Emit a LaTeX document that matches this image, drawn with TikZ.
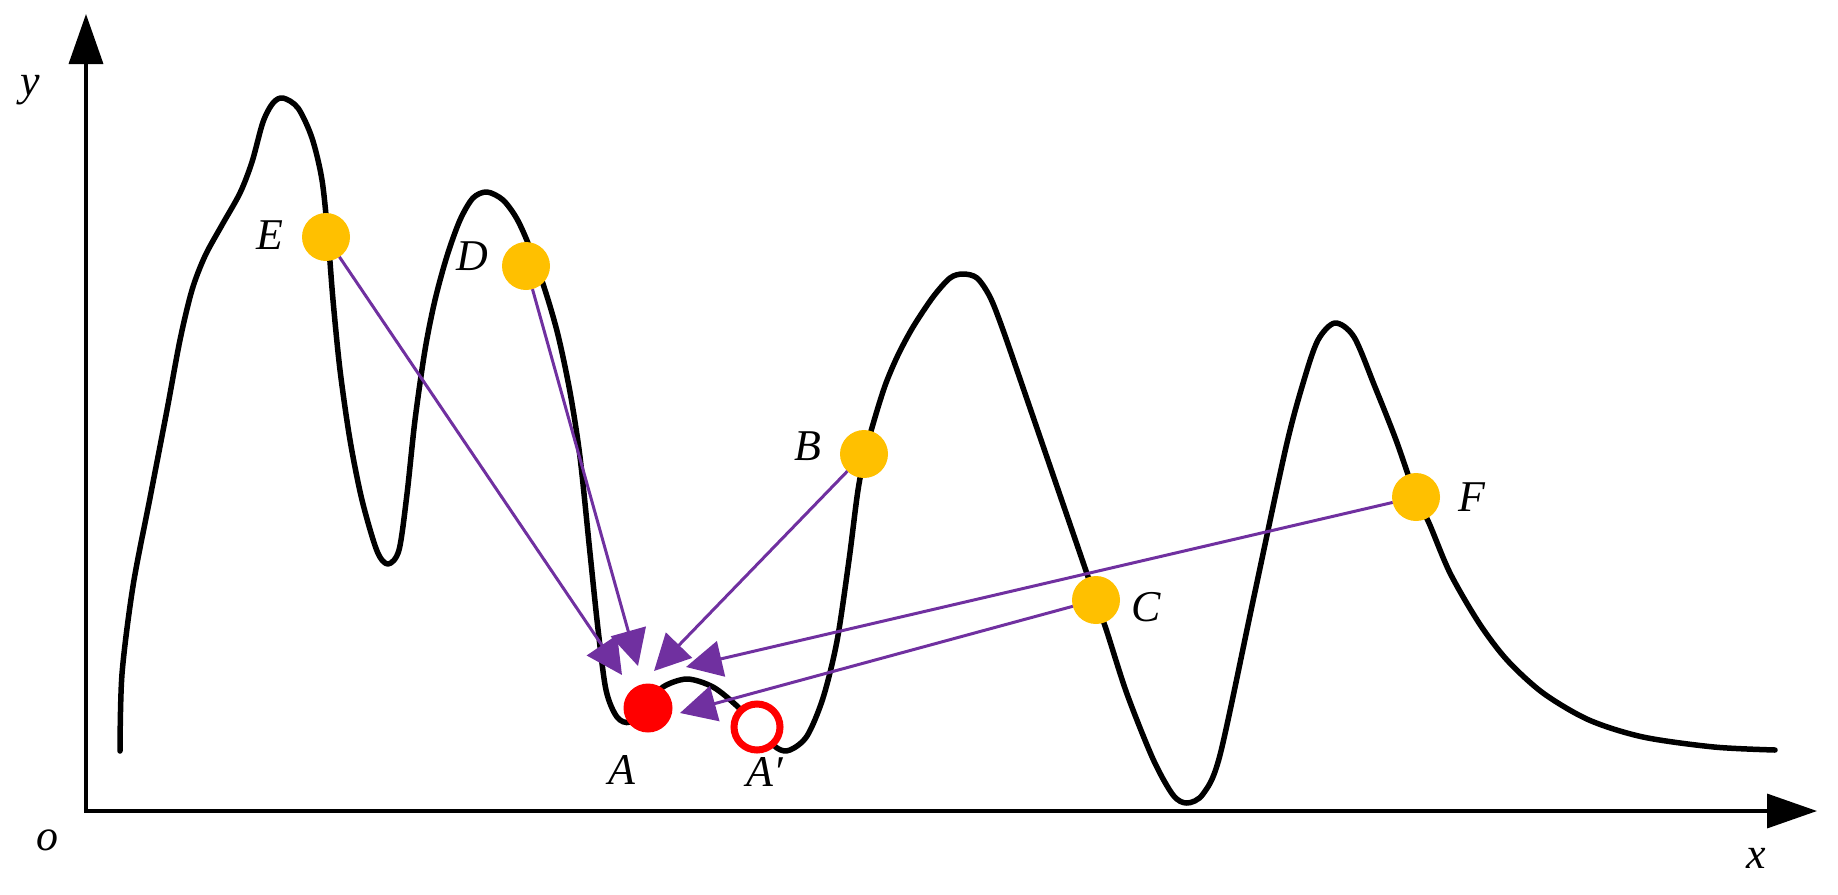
\documentclass[tikz,border=0pt]{standalone}
\usepackage{fontspec}
\setmainfont{Liberation Serif}
\usetikzlibrary{arrows.meta}
\definecolor{ptyellow}{HTML}{FFC000}
\definecolor{ptpurple}{HTML}{7030A0}
\definecolor{ptred}{HTML}{FF0000}
\begin{document}
\begin{tikzpicture}[x=0.1mm,y=-0.1mm,
  axis/.style={line width=0.35mm,{Triangle[length=5mm,width=3.4mm]}-{Triangle[length=5mm,width=3.4mm]}},
  curve/.style={line width=0.55mm,line join=round,line cap=round},
  ball/.style={circle,fill=ptyellow,minimum size=4.8mm,inner sep=0pt,outer sep=0pt},
  lbl/.style={font=\fontsize{12.5}{15}\selectfont\itshape,inner sep=0pt},
  pull/.style={ptpurple,line width=0.3mm,-{Triangle[length=3.6mm,width=3.6mm]}}
]
\useasboundingbox (0,0) rectangle (1838,894);
% axes
\coordinate (O) at (86,811);
\coordinate (xend) at (1817,811);
\coordinate (yend) at (86,14);
\draw[axis] (yend) -- (O) -- (xend);
% landscape curve
\draw[curve] plot[smooth,tension=0.5] coordinates {
(120,751) (122,674) (133,586) (150,498) (167,410) (180,340) (192,290) (205,256)
(222,225) (240,193) (252,162) (263,122) (273,103) (283,98) (298,108) (312,138)
(322,180) (328,237) (333,300) (340,370) (350,440) (362,500) (377,551) (388,564)
(399,550) (407,494) (415,420) (425,350) (435,300) (447,256) (460,220) (473,198)
(487,192) (503,200) (517,219) (530,248) (545,290) (558,335) (570,392) (580,457)
(590,553) (598,629) (606,690) (617,717) (630,722) (648,705) (663,687)
(687,679) (713,687) (737,706) (757,727) (777,748) (790,750) (807,736) (823,698)
(837,641) (849,560) (858,490) (866,450) (876,414) (886,383) (898,355) (913,327)
(933,297) (950,278) (963,274) (977,278) (990,297) (1003,330) (1030,408)
(1063,504) (1096,600)
(1107,632) (1127,694) (1153,759) (1173,795) (1187,803) (1203,794) (1220,755) (1253,601)
(1286,447) (1304,380) (1318,340) (1335,323) (1354,337) (1375,387)
(1396,440) (1416,497) (1429,523) (1450,573) (1479,623) (1507,660) (1543,693) (1589,720)
(1643,737) (1714,747) (1775,750)};
% balls
\node[ball] (E) at (326,237) {};
\node[ball] (D) at (526,266) {};
\node[ball] (B) at (864,454) {};
\node[ball] (C) at (1096,600) {};
\node[ball] (F) at (1416,497) {};
\node[circle,fill=ptred,minimum size=4.9mm,inner sep=0pt] (A) at (648,708) {};
\node[circle,draw=ptred,line width=0.7mm,fill=white,minimum size=4.6mm,inner sep=0pt] (Ap) at (757,727) {};
% arrow tips
\coordinate (tE) at (622,675);
\coordinate (tD) at (638,666);
\coordinate (tB) at (654,671);
\coordinate (tF) at (686,667);
\coordinate (tC) at (680,713);
\draw[pull] (E) -- (tE);
\draw[pull] (D) -- (tD);
\draw[pull] (B) -- (tB);
\draw[pull] (F) -- (tF);
\draw[pull] (C) -- (tC);
% labels
\node[lbl] (lE) at (270,235) {E};
\node[lbl] (lD) at (472,256) {D};
\node[lbl] (lB) at (808,446) {B};
\node[lbl] (lC) at (1146,607) {C};
\node[lbl] (lF) at (1472,497) {F};
\node[lbl] (lA) at (622,770) {A};
\node[lbl] (lAp) at (765,772) {A′};
\node[lbl] (lx) at (1756,858) {x};
\node[lbl] (ly) at (30,90) {y};
\node[lbl] (lo) at (47,840) {o};
\end{tikzpicture}
\end{document}
